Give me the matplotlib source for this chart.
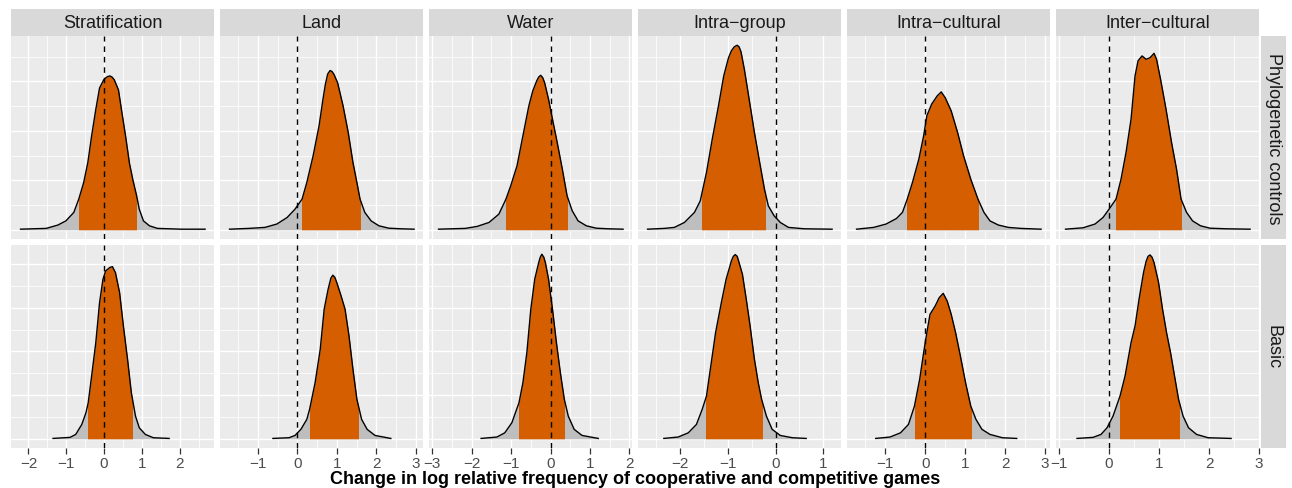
import numpy as np
import matplotlib
matplotlib.use("Agg")
import matplotlib.pyplot as plt
from matplotlib.patches import Rectangle
from matplotlib.ticker import MultipleLocator

plt.rcParams['font.family'] = ['Liberation Sans', 'DejaVu Sans']

facets = ["Stratification", "Land", "Water", "Intra\u2212group", "Intra\u2212cultural", "Inter\u2212cultural"]
models = ["Phylogenetic controls", "Basic"]
xticks = [[-2, -1, 0, 1, 2], [-1, 0, 1, 2, 3], [-3, -2, -1, 0, 1, 2],
          [-2, -1, 0, 1], [-1, 0, 1, 2, 3], [-1, 0, 1, 2, 3]]

# posterior densities, phylogenetic controls row
strat_phy_x = [-2.21, -1.53, -1.22, -1.01, -0.80, -0.67, -0.54, -0.43, -0.33, -0.22, -0.12, -0.01, 0.07, 0.15,
               0.21, 0.27, 0.38, 0.46, 0.57, 0.67, 0.76, 0.86, 0.93, 1.04, 1.20, 1.41, 2.04, 2.67]
strat_phy_y = [0.003, 0.007, 0.024, 0.045, 0.088, 0.155, 0.239, 0.340, 0.475, 0.608, 0.717, 0.758, 0.772, 0.778,
               0.772, 0.758, 0.707, 0.606, 0.471, 0.337, 0.253, 0.172, 0.104, 0.045, 0.020, 0.007, 0.003, 0.003]
land_phy_x = [-1.72, -1.23, -0.82, -0.52, -0.26, -0.06, 0.12, 0.24, 0.40, 0.55, 0.65, 0.71, 0.77, 0.83,
              0.88, 0.93, 1.02, 1.16, 1.29, 1.41, 1.51, 1.59, 1.71, 1.87, 2.07, 2.32, 2.63, 2.96]
land_phy_y = [0.003, 0.007, 0.012, 0.029, 0.062, 0.104, 0.155, 0.239, 0.374, 0.525, 0.660, 0.735, 0.788, 0.805,
              0.800, 0.785, 0.744, 0.626, 0.492, 0.340, 0.239, 0.155, 0.088, 0.045, 0.020, 0.008, 0.005, 0.003]
water_phy_x = [-2.84, -2.16, -1.86, -1.56, -1.31, -1.13, -1.01, -0.85, -0.70, -0.55, -0.45, -0.35, -0.30, -0.25,
               -0.20, -0.15, -0.05, 0.05, 0.17, 0.30, 0.42, 0.55, 0.70, 0.91, 1.16, 1.46, 1.84]
water_phy_y = [0.003, 0.007, 0.017, 0.037, 0.079, 0.155, 0.222, 0.323, 0.475, 0.626, 0.702, 0.753, 0.772, 0.781,
               0.770, 0.744, 0.660, 0.559, 0.441, 0.306, 0.172, 0.096, 0.045, 0.020, 0.008, 0.005, 0.003]
intrag_phy_x = [-2.67, -2.32, -2.11, -1.90, -1.69, -1.57, -1.44, -1.32, -1.19, -1.08, -0.98, -0.92, -0.86, -0.80,
                -0.76, -0.72, -0.65, -0.55, -0.44, -0.33, -0.23, -0.15, -0.03, 0.10, 0.27, 0.60, 1.18]
intrag_phy_y = [0.003, 0.007, 0.012, 0.037, 0.088, 0.146, 0.290, 0.458, 0.626, 0.778, 0.870, 0.905, 0.925, 0.933,
                0.925, 0.900, 0.811, 0.660, 0.492, 0.340, 0.205, 0.121, 0.071, 0.037, 0.012, 0.005, 0.003]
intrac_phy_x = [-1.72, -1.29, -0.98, -0.72, -0.57, -0.45, -0.32, -0.16, -0.04, 0.04, 0.16, 0.30, 0.40,
                0.50, 0.65, 0.81, 0.96, 1.14, 1.32, 1.47, 1.62, 1.83, 2.08, 2.39, 2.90]
intrac_phy_y = [0.003, 0.012, 0.029, 0.057, 0.088, 0.155, 0.239, 0.357, 0.475, 0.576, 0.635, 0.677, 0.697,
                0.668, 0.601, 0.492, 0.374, 0.256, 0.155, 0.088, 0.045, 0.024, 0.012, 0.007, 0.003]
inter_phy_x = [-0.87, -0.52, -0.28, -0.12, 0.00, 0.14, 0.24, 0.34, 0.44, 0.52, 0.58, 0.66, 0.74, 0.82,
               0.90, 0.95, 1.03, 1.14, 1.25, 1.35, 1.44, 1.55, 1.67, 1.83, 2.02, 2.34, 2.82]
inter_phy_y = [0.003, 0.010, 0.029, 0.062, 0.104, 0.155, 0.256, 0.391, 0.559, 0.778, 0.854, 0.879, 0.862, 0.870,
               0.892, 0.862, 0.761, 0.609, 0.441, 0.306, 0.155, 0.088, 0.045, 0.020, 0.008, 0.005, 0.003]

# posterior densities, basic row
strat_bas_x = [-1.35, -0.90, -0.75, -0.59, -0.48, -0.42, -0.33, -0.22, -0.12, -0.03, 0.04, 0.15, 0.22,
               0.30, 0.41, 0.51, 0.62, 0.72, 0.83, 0.93, 1.09, 1.30, 1.72]
strat_bas_y = [0.002, 0.008, 0.025, 0.082, 0.149, 0.206, 0.359, 0.550, 0.780, 0.914, 0.961, 0.981, 0.986,
               0.952, 0.837, 0.646, 0.455, 0.264, 0.130, 0.063, 0.025, 0.006, 0.002]
land_bas_x = [-0.62, -0.21, -0.06, 0.09, 0.24, 0.31, 0.45, 0.58, 0.68, 0.78, 0.85, 0.90, 0.95, 1.00, 1.11,
              1.21, 1.31, 1.41, 1.51, 1.63, 1.77, 1.97, 2.37]
land_bas_y = [0.002, 0.006, 0.019, 0.054, 0.111, 0.168, 0.321, 0.512, 0.742, 0.856, 0.920, 0.937, 0.925, 0.895,
              0.818, 0.742, 0.589, 0.398, 0.226, 0.111, 0.054, 0.019, 0.002]
water_bas_x = [-1.76, -1.36, -1.16, -0.98, -0.80, -0.70, -0.60, -0.50, -0.40, -0.30, -0.26, -0.22, -0.17,
               -0.13, -0.05, 0.05, 0.15, 0.25, 0.35, 0.45, 0.60, 0.80, 1.21]
water_bas_y = [0.002, 0.010, 0.034, 0.092, 0.206, 0.321, 0.493, 0.742, 0.914, 1.009, 1.040, 1.057, 1.040,
               1.009, 0.914, 0.742, 0.550, 0.378, 0.226, 0.130, 0.054, 0.019, 0.002]
intrag_bas_x = [-2.33, -2.03, -1.82, -1.65, -1.53, -1.44, -1.36, -1.25, -1.13, -1.03, -0.92, -0.88, -0.84,
                -0.80, -0.78, -0.69, -0.61, -0.53, -0.44, -0.36, -0.29, -0.19, -0.07, 0.10, 0.35, 0.64]
intrag_bas_y = [0.002, 0.010, 0.034, 0.082, 0.168, 0.245, 0.398, 0.608, 0.780, 0.914, 1.019, 1.045, 1.055,
                1.045, 1.028, 0.942, 0.799, 0.646, 0.455, 0.321, 0.226, 0.130, 0.054, 0.019, 0.006, 0.002]
intrac_bas_x = [-1.24, -0.88, -0.62, -0.42, -0.27, -0.14, -0.04, 0.04, 0.12, 0.25, 0.35, 0.45, 0.55,
                0.65, 0.76, 0.88, 1.01, 1.14, 1.27, 1.42, 1.62, 1.93, 2.29]
intrac_bas_y = [0.002, 0.010, 0.034, 0.082, 0.187, 0.340, 0.493, 0.608, 0.713, 0.761, 0.808, 0.833, 0.789,
                0.713, 0.608, 0.474, 0.321, 0.187, 0.111, 0.054, 0.025, 0.006, 0.002]
inter_bas_x = [-0.64, -0.32, -0.16, -0.04, 0.08, 0.22, 0.32, 0.44, 0.52, 0.60, 0.69, 0.74, 0.78, 0.82,
               0.86, 0.90, 0.99, 1.07, 1.15, 1.23, 1.31, 1.39, 1.48, 1.59, 1.75, 1.98, 2.44]
inter_bas_y = [0.002, 0.008, 0.025, 0.063, 0.130, 0.245, 0.359, 0.550, 0.646, 0.799, 0.952, 1.015, 1.045, 1.053,
               1.040, 1.009, 0.895, 0.742, 0.608, 0.493, 0.359, 0.226, 0.130, 0.063, 0.025, 0.006, 0.002]

# 95% intervals
phy_lo = [-0.67, 0.12, -1.13, -1.53, -0.46, 0.14]
phy_hi = [0.85, 1.58, 0.42, -0.22, 1.32, 1.44]
bas_lo = [-0.42, 0.31, -0.80, -1.44, -0.26, 0.22]
bas_hi = [0.75, 1.53, 0.35, -0.29, 1.14, 1.39]

curves = [
    [(strat_phy_x, strat_phy_y), (land_phy_x, land_phy_y), (water_phy_x, water_phy_y),
     (intrag_phy_x, intrag_phy_y), (intrac_phy_x, intrac_phy_y), (inter_phy_x, inter_phy_y)],
    [(strat_bas_x, strat_bas_y), (land_bas_x, land_bas_y), (water_bas_x, water_bas_y),
     (intrag_bas_x, intrag_bas_y), (intrac_bas_x, intrac_bas_y), (inter_bas_x, inter_bas_y)],
]
intervals = [(phy_lo, phy_hi), (bas_lo, bas_hi)]

ORANGE = "#D55E00"
GREY = "#BEBEBE"
PANEL = "#EBEBEB"
STRIP = "#D9D9D9"

W, H = 1292, 489
fig = plt.figure(figsize=(W / 100, H / 100), dpi=100)


def rect(l, t, w, h):
    return [l / W, 1 - (t + h) / H, w / W, h / H]


col_left = [11.3 + 209 * j for j in range(6)]
pw = 203
row_top = [37, 246]
ph = 203


def expand(lo, hi):
    d = (hi - lo) * 0.05
    return lo - d, hi + d


for j in range(6):
    xs = np.concatenate([curves[0][j][0], curves[1][j][0]])
    xlim = expand(xs.min(), xs.max())
    for i in range(2):
        x, y = curves[i][j]
        ymax = max(max(c[1]) for c in curves[i])
        ax = fig.add_axes(rect(col_left[j], row_top[i], pw, ph))
        ax.set_facecolor(PANEL)
        for s in ax.spines.values():
            s.set_visible(False)
        ax.set_xlim(*xlim)
        ax.set_ylim(*expand(0, ymax))
        ax.set_xticks(xticks[j])
        ax.xaxis.set_minor_locator(MultipleLocator(0.5))
        ax.yaxis.set_major_locator(MultipleLocator(0.25))
        ax.yaxis.set_minor_locator(MultipleLocator(0.125))
        ax.grid(which='major', color='white', lw=1.0)
        ax.grid(which='minor', color='white', lw=0.55)
        ax.set_axisbelow(True)
        ax.tick_params(axis='y', which='both', left=False, labelleft=False)
        ax.tick_params(axis='x', which='minor', bottom=False)
        if i == 1:
            ax.tick_params(axis='x', which='major', length=4, width=0.9, color='#333333',
                           labelsize=11, labelcolor='#4D4D4D', pad=2)
        else:
            ax.tick_params(axis='x', which='major', bottom=False, labelbottom=False)

        ax.fill_between(x, y, color=GREY, lw=0, zorder=2)
        lo, hi = intervals[i][0][j], intervals[i][1][j]
        poly = ax.fill_between(x, y, color=ORANGE, lw=0, zorder=3)
        clip = Rectangle((lo, -1), hi - lo, 10, transform=ax.transData)
        poly.set_clip_path(clip)
        ax.plot(x, y, color='black', lw=1.0, zorder=4, solid_joinstyle='round')
        ax.axvline(0, color='black', lw=1.0, ls=(0, (4, 3.5)), zorder=5)

    # column strip
    sax = fig.add_axes(rect(col_left[j], 10, pw, 27))
    sax.set_facecolor(STRIP)
    sax.set_xticks([])
    sax.set_yticks([])
    for s in sax.spines.values():
        s.set_visible(False)
    sax.text(0.5, 0.5, facets[j], ha='center', va='center', fontsize=13, color='#1A1A1A',
             transform=sax.transAxes)

for i in range(2):
    sax = fig.add_axes(rect(1261, row_top[i], 24.5, ph))
    sax.set_facecolor(STRIP)
    sax.set_xticks([])
    sax.set_yticks([])
    for s in sax.spines.values():
        s.set_visible(False)
    sax.text(0.5, 0.5, models[i], ha='center', va='center', rotation=-90, fontsize=13,
             color='#1A1A1A', transform=sax.transAxes)

fig.text((col_left[0] + col_left[5] + pw) / 2 / W, 1 - 480 / H,
         "Change in log relative frequency of cooperative and competitive games",
         ha='center', va='center', fontsize=13, fontweight='bold', color='black')

fig.savefig("out.png", dpi=100)
